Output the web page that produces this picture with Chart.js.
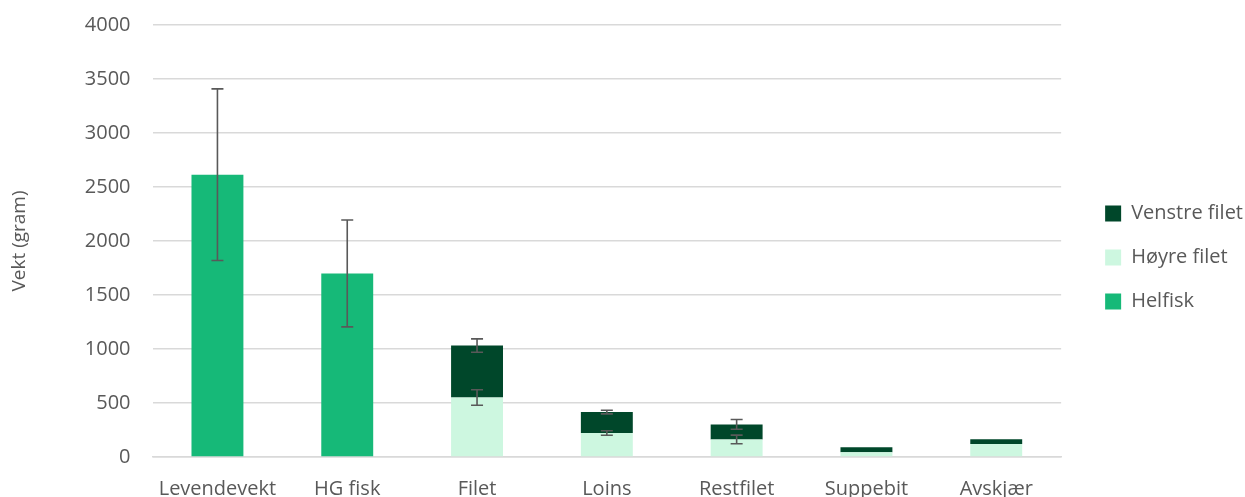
<!DOCTYPE html>
<html>
<head>
<meta charset="utf-8">
<script src="https://cdn.jsdelivr.net/npm/chart.js@4"></script>
<style>
  html, body { margin: 0; padding: 0; background: #fff; overflow: hidden; }
  canvas { display: block; margin-top: -9px; }
</style>
</head>
<body>
<canvas id="chart" width="1245" height="530" style="width:1245px;height:530px"></canvas>
<script>
// Data
const categories = ['Levendevekt', 'HG fisk', 'Filet', 'Loins', 'Restfilet', 'Suppebit', 'Avskjær'];
const helfisk      = [2614, 1700, 0, 0, 0, 0, 0];
const helfiskErr   = [795, 495, 0, 0, 0, 0, 0];
const hoyreFilet   = [0, 0, 551, 222, 163, 45, 120];
const hoyreErr     = [0, 0, 72, 21, 40, 0, 0];
const venstreFilet = [0, 0, 481, 194, 139, 45, 44];
const venstreErr   = [0, 0, 62, 17, 45, 0, 0];

const textColor = '#595959';
const fontFamily = "'Open Sans', 'Liberation Sans', sans-serif";

// draws error bars on top of each stacked segment
const errorBars = {
    id: 'errorBars',
    afterDatasetsDraw(chart) {
        const ctx = chart.ctx;
        const yScale = chart.scales.y;
        ctx.save();
        ctx.strokeStyle = '#595959';
        ctx.lineWidth = 1.6;
        chart.data.datasets.forEach((ds, di) => {
            if (!ds.err) return;
            const meta = chart.getDatasetMeta(di);
            meta.data.forEach((bar, i) => {
                const e = ds.err[i];
                if (!e) return;
                const yVal = yScale.getValueForPixel(bar.y);
                const yHi = yScale.getPixelForValue(yVal + e);
                const yLo = yScale.getPixelForValue(yVal - e);
                const x = bar.x;
                const cap = 6;
                ctx.beginPath();
                ctx.moveTo(x, yHi); ctx.lineTo(x, yLo);
                ctx.moveTo(x - cap, yHi); ctx.lineTo(x + cap, yHi);
                ctx.moveTo(x - cap, yLo); ctx.lineTo(x + cap, yLo);
                ctx.stroke();
            });
        });
        ctx.restore();
    }
};

// push the legend a little to the right of the plot area
const legendShift = {
    id: 'legendShift',
    afterLayout(chart) {
        const lg = chart.legend;
        if (!lg) return;
        lg.left += 20;
        lg.right += 20;
    }
};

new Chart(document.getElementById('chart'), {
    type: 'bar',
    data: {
        labels: categories,
        datasets: [
            { label: 'Helfisk', data: helfisk, err: helfiskErr, backgroundColor: '#16B978' },
            { label: 'Høyre filet', data: hoyreFilet, err: hoyreErr, backgroundColor: '#CDF7E0' },
            { label: 'Venstre filet', data: venstreFilet, err: venstreErr, backgroundColor: '#00472A' }
        ]
    },
    options: {
        responsive: false,
        animation: false,
        layout: { padding: { left: 4, right: 12, top: 3, bottom: 0 } },
        datasets: { bar: { categoryPercentage: 1, barPercentage: 0.4 } },
        plugins: {
            tooltip: { enabled: false },
            legend: {
                position: 'right',
                reverse: true,
                labels: {
                    color: textColor,
                    font: { family: fontFamily, size: 20 },
                    boxWidth: 16, boxHeight: 16,
                    padding: 24
                }
            }
        },
        scales: {
            x: {
                stacked: true,
                grid: { display: false, drawTicks: false },
                border: { color: '#d9d9d9', width: 1.5 },
                ticks: { color: textColor, font: { family: fontFamily, size: 20 }, padding: 20, maxRotation: 0 }
            },
            y: {
                stacked: true,
                min: 0, max: 4000,
                ticks: {
                    stepSize: 500, color: textColor, font: { family: fontFamily, size: 20 }, padding: 22,
                    callback: (v) => String(v)
                },
                grid: { color: '#d9d9d9', lineWidth: 1.5, drawTicks: false },
                border: { display: false },
                title: { display: true, text: 'Vekt (gram)', color: textColor, font: { family: fontFamily, size: 19 }, padding: { bottom: 32 } }
            }
        }
    },
    plugins: [errorBars, legendShift]
});
</script>
</body>
</html>
